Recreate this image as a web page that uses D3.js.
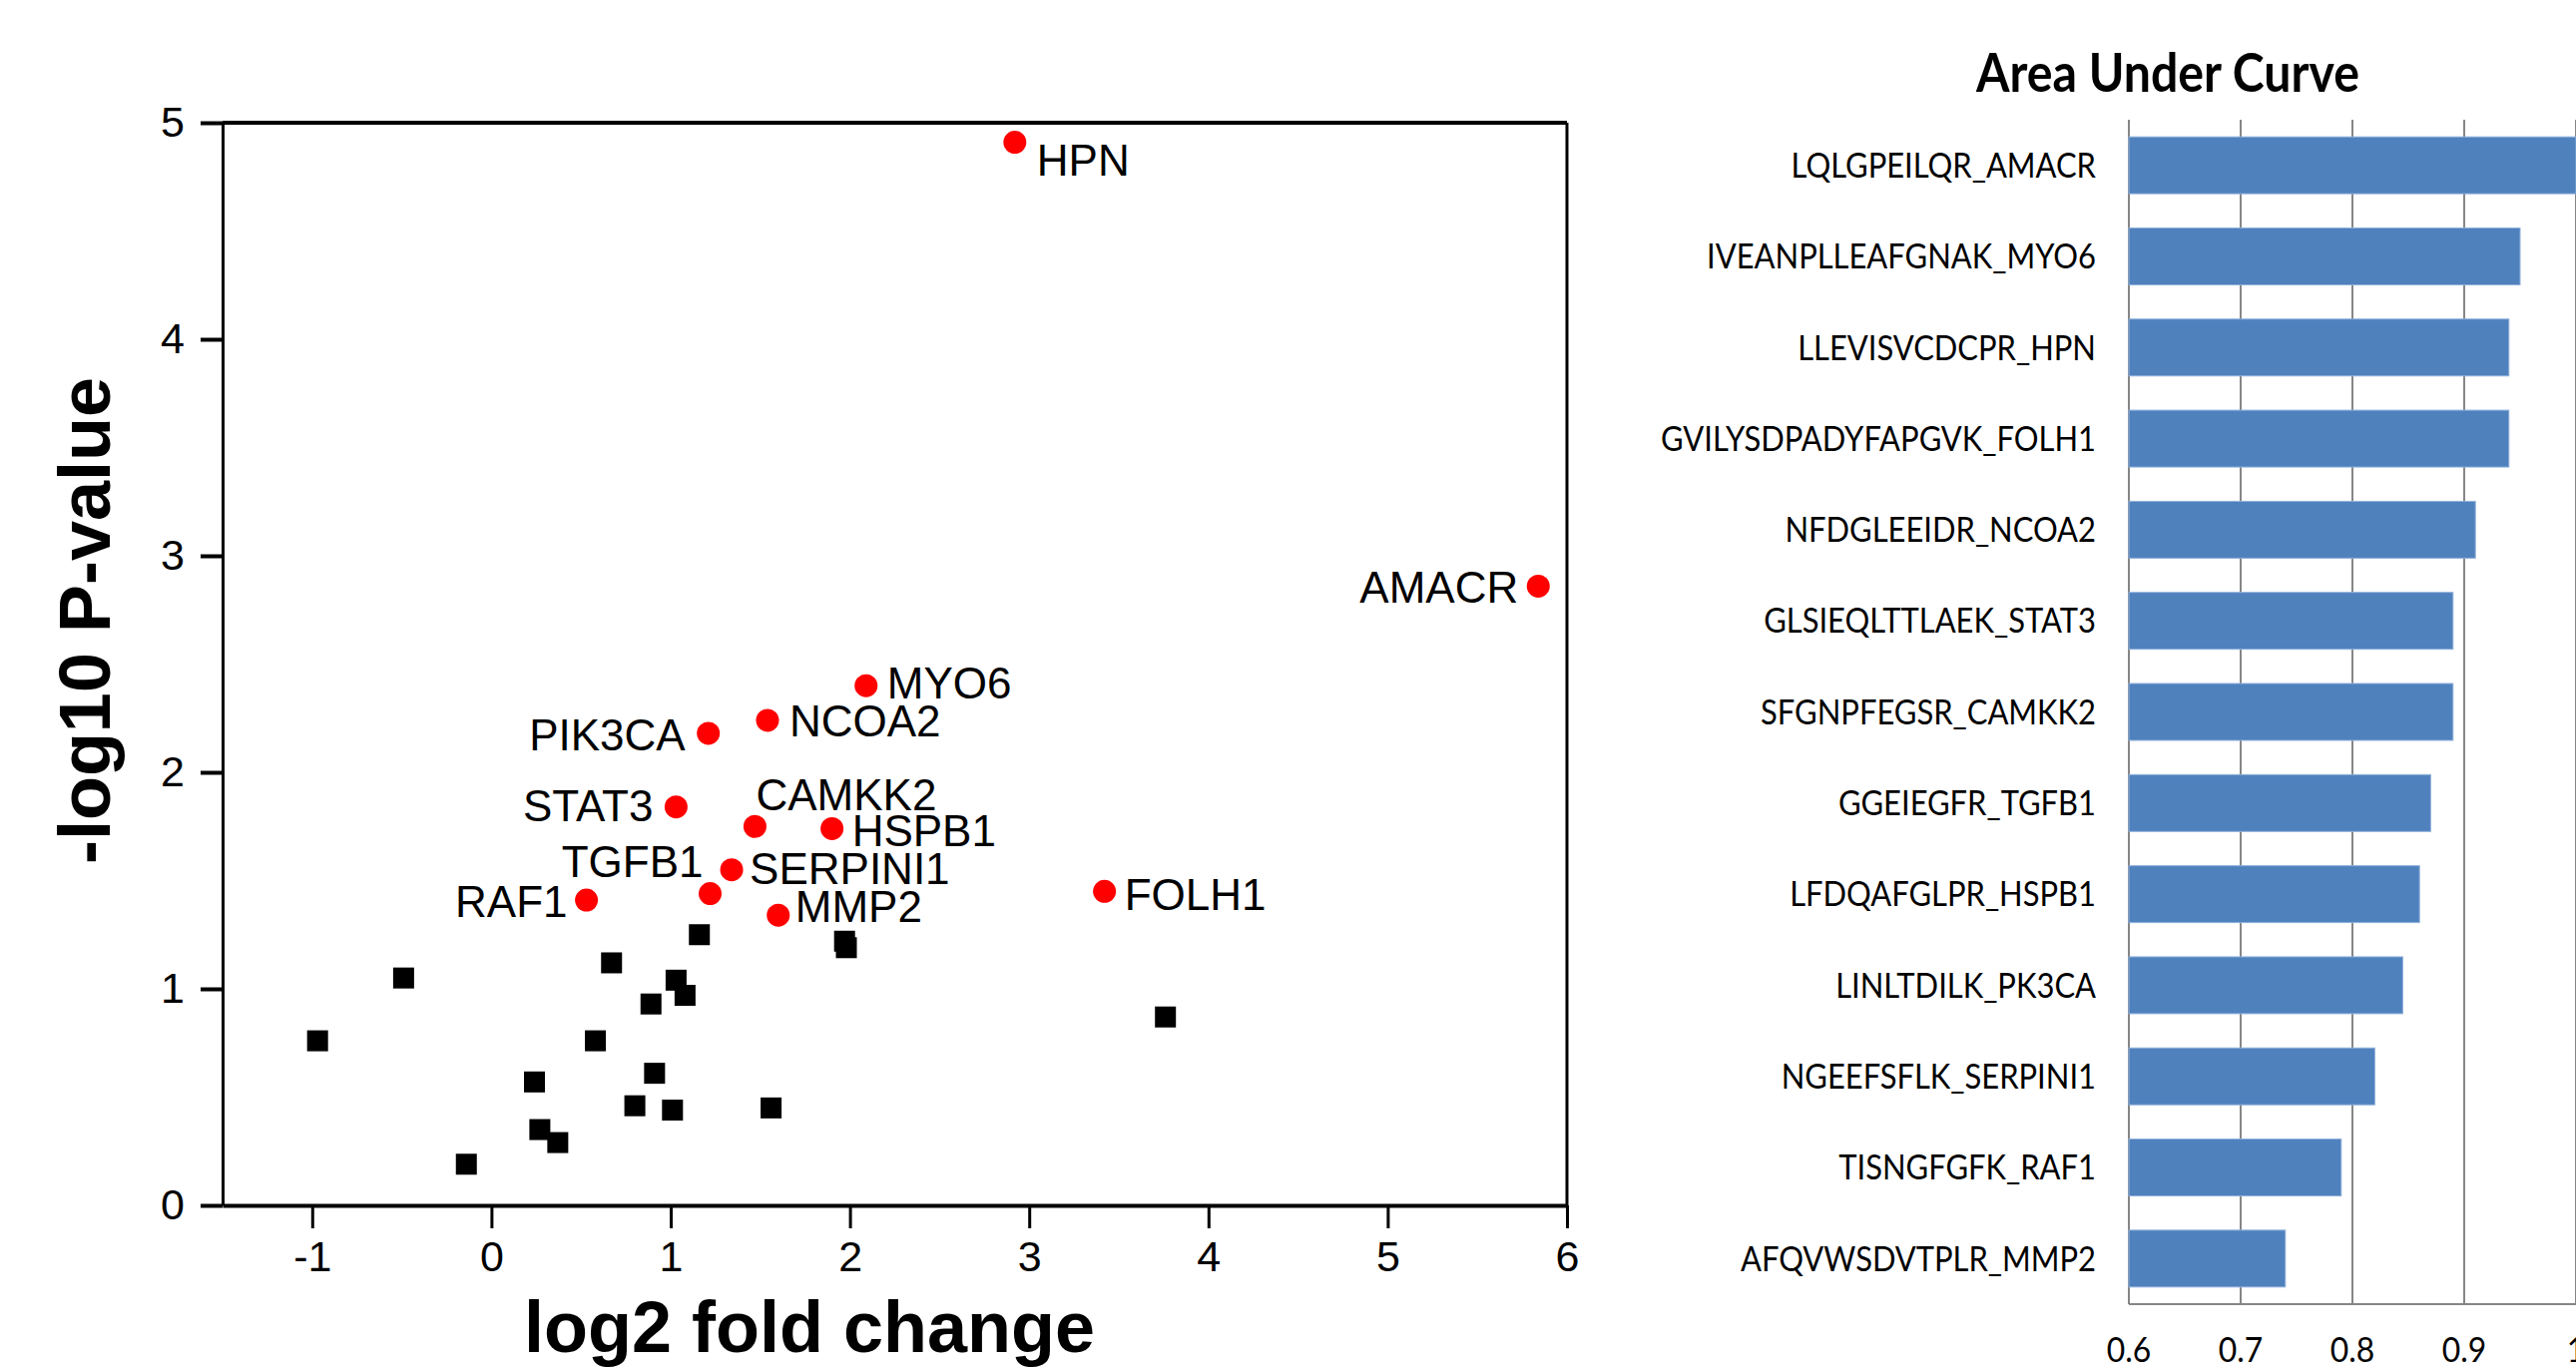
<!DOCTYPE html>
<html>
<head>
<meta charset="utf-8">
<script src="https://cdn.jsdelivr.net/npm/d3@7"></script>
<style>
    body { margin: 0; background: white; }
    svg { display: block; }
</style>
</head>
<body>
<script>
(function () {

    // volcano plot - labelled (significant) genes
    const geneNames = ["HPN", "AMACR", "MYO6", "NCOA2", "PIK3CA", "STAT3", "CAMKK2", "HSPB1", "SERPINI1", "TGFB1", "RAF1", "MMP2", "FOLH1"];
    const geneFC = [2.92, 5.84, 2.09, 1.54, 1.21, 1.03, 1.47, 1.90, 1.34, 1.22, 0.53, 1.60, 3.42];
    const geneP = [4.91, 2.86, 2.40, 2.24, 2.18, 1.84, 1.75, 1.74, 1.55, 1.44, 1.41, 1.34, 1.45];

    // other proteins (black squares)
    const otherFC = [1.16, 1.97, 1.98, 0.67, -0.49, 1.03, 1.08, 0.89, 3.76, -0.97, 0.58, 0.91, 0.24, 0.80, 1.01, 1.56, 0.27, 0.37, -0.14];
    const otherP = [1.25, 1.22, 1.19, 1.12, 1.05, 1.04, 0.97, 0.93, 0.87, 0.76, 0.76, 0.61, 0.57, 0.46, 0.44, 0.45, 0.35, 0.29, 0.19];

    const xTicks = [-1, 0, 1, 2, 3, 4, 5, 6];
    const yTicks = [0, 1, 2, 3, 4, 5];

    // bar chart - area under curve
    const peptides = ["LQLGPEILQR_AMACR", "IVEANPLLEAFGNAK_MYO6", "LLEVISVCDCPR_HPN", "GVILYSDPADYFAPGVK_FOLH1",
        "NFDGLEEIDR_NCOA2", "GLSIEQLTTLAEK_STAT3", "SFGNPFEGSR_CAMKK2", "GGEIEGFR_TGFB1", "LFDQAFGLPR_HSPB1",
        "LINLTDILK_PK3CA", "NGEEFSFLK_SERPINI1", "TISNGFGFK_RAF1", "AFQVWSDVTPLR_MMP2"];
    const aucValues = [1.0, 0.95, 0.94, 0.94, 0.91, 0.89, 0.89, 0.87, 0.86, 0.845, 0.82, 0.79, 0.74];
    const aucTicks = [0.6, 0.7, 0.8, 0.9, 1];

    // where each gene label sits relative to its dot: [dx, dy, anchor]
    const labelPlacement = {
        HPN: [22, 33, "start"], AMACR: [-20, 17, "end"], MYO6: [21, 13, "start"],
        NCOA2: [22, 16, "start"], PIK3CA: [-23, 17, "end"], STAT3: [-23, 14, "end"],
        CAMKK2: [1, -16, "start"], HSPB1: [20, 18, "start"], SERPINI1: [18, 14, "start"],
        TGFB1: [-7, -17, "end"], RAF1: [-19, 17, "end"], MMP2: [17, 7, "start"], FOLH1: [20, 19, "start"]
    };

    let svgContainer = "";
    window.onload = function () {
        svgContainer = d3.select('body')
            .append('svg')
            .attr('width', 2581)
            .attr('height', 1372);

        svgContainer.append('rect')
            .attr('width', 2581)
            .attr('height', 1372)
            .attr('fill', 'white');

        plotVolcano();
        plotAUC();
    };

    function plotVolcano() {
        let xScale = d3.scaleLinear()
            .domain([-1.5, 6])
            .range([223, 1570]);

        let yScale = d3.scaleLinear()
            .domain([0, 5])
            .range([1208, 123]);

        let font = "'Liberation Sans', Arial, sans-serif";

        let xAxis = d3.axisBottom(xScale)
            .tickValues(xTicks)
            .tickFormat((d) => String(d))
            .tickSize(23)
            .tickSizeOuter(0)
            .tickPadding(12);

        let gx = svgContainer.append('g')
            .attr('transform', 'translate(0, ' + yScale(0) + ')')
            .call(xAxis);
        gx.select('.domain').attr('stroke-width', 4);
        gx.selectAll('.tick line').attr('stroke-width', 3);
        gx.selectAll('.tick text')
            .attr('font-family', font)
            .attr('font-size', 43)
            .attr('fill', 'black');

        let yAxis = d3.axisLeft(yScale)
            .tickValues(yTicks)
            .tickFormat((d) => String(d))
            .tickSize(22)
            .tickSizeOuter(0)
            .tickPadding(16);

        let gy = svgContainer.append('g')
            .attr('transform', 'translate(' + xScale(-1.5) + ', 0)')
            .call(yAxis);
        gy.select('.domain').attr('stroke-width', 3);
        gy.selectAll('.tick line').attr('stroke-width', 4);
        gy.selectAll('.tick text')
            .attr('font-family', font)
            .attr('font-size', 43)
            .attr('fill', 'black');

        // frame: top and right
        svgContainer.append('line')
            .attr('x1', xScale(-1.5))
            .attr('x2', xScale(6))
            .attr('y1', yScale(5))
            .attr('y2', yScale(5))
            .attr('stroke', 'black')
            .attr('stroke-width', 4);

        svgContainer.append('line')
            .attr('x1', xScale(6))
            .attr('x2', xScale(6))
            .attr('y1', yScale(5))
            .attr('y2', yScale(0))
            .attr('stroke', 'black')
            .attr('stroke-width', 3);

        // black squares
        let sq = 21;
        svgContainer.append('g')
            .selectAll('rect')
            .data(otherFC.map((d, i) => ({ fc: d, p: otherP[i] })))
            .enter()
            .append('rect')
            .attr('x', (d) => xScale(d.fc) - sq / 2)
            .attr('y', (d) => yScale(d.p) - sq / 2)
            .attr('width', sq)
            .attr('height', sq)
            .attr('fill', 'black');

        let genes = geneNames.map((name, i) => ({ name: name, fc: geneFC[i], p: geneP[i] }));

        svgContainer.append('g')
            .selectAll('circle')
            .data(genes)
            .enter()
            .append('circle')
            .attr('cx', (d) => xScale(d.fc))
            .attr('cy', (d) => yScale(d.p))
            .attr('r', 11.5)
            .attr('fill', '#ff0000');

        svgContainer.append('g')
            .selectAll('text')
            .data(genes)
            .enter()
            .append('text')
            .attr('x', (d) => xScale(d.fc) + labelPlacement[d.name][0])
            .attr('y', (d) => yScale(d.p) + labelPlacement[d.name][1])
            .attr('text-anchor', (d) => labelPlacement[d.name][2])
            .attr('font-family', font)
            .attr('font-size', 44)
            .text((d) => d.name);

        // axis titles
        svgContainer.append('text')
            .attr('x', 811)
            .attr('y', 1355)
            .attr('text-anchor', 'middle')
            .attr('font-family', font)
            .attr('font-weight', 'bold')
            .attr('font-size', 72)
            .text('log2 fold change');

        svgContainer.append('text')
            .attr('transform', 'translate(110, 622) rotate(-90)')
            .attr('text-anchor', 'middle')
            .attr('font-family', font)
            .attr('font-weight', 'bold')
            .attr('font-size', 72)
            .text('-log10 P-value');
    }

    function plotAUC() {
        // Lato is wider than the Calibri-like original, so squeeze it a bit
        let font = "Lato, 'Open Sans', sans-serif";
        let squeeze = 0.91;

        let xScale = d3.scaleLinear()
            .domain([0.6, 1.0])
            .range([2133, 2581]);

        let yScale = d3.scaleBand()
            .domain(peptides)
            .range([120, 1307])
            .paddingInner(0.376)
            .paddingOuter(0.188);

        // gridlines
        svgContainer.append('g')
            .selectAll('line')
            .data(aucTicks)
            .enter()
            .append('line')
            .attr('x1', (d) => xScale(d))
            .attr('x2', (d) => xScale(d))
            .attr('y1', 120)
            .attr('y2', 1307)
            .attr('stroke', '#868686')
            .attr('stroke-width', 2);

        svgContainer.append('line')
            .attr('x1', xScale(0.6))
            .attr('x2', xScale(1.0))
            .attr('y1', 1307)
            .attr('y2', 1307)
            .attr('stroke', '#868686')
            .attr('stroke-width', 2);

        svgContainer.append('g')
            .selectAll('rect')
            .data(peptides)
            .enter()
            .append('rect')
            .attr('x', xScale(0.6))
            .attr('y', (d) => yScale(d))
            .attr('width', (d, i) => xScale(aucValues[i]) - xScale(0.6))
            .attr('height', yScale.bandwidth())
            .attr('fill', '#4f81bd')
            .attr('stroke', '#8fb0db')
            .attr('stroke-width', 1);

        // category labels
        svgContainer.append('g')
            .selectAll('text')
            .data(peptides)
            .enter()
            .append('text')
            .attr('transform', (d) => 'translate(2100, ' + (yScale(d) + yScale.bandwidth() / 2) + ') scale(' + squeeze + ', 1)')
            .attr('dy', '0.36em')
            .attr('text-anchor', 'end')
            .attr('font-family', font)
            .attr('font-size', 34)
            .text((d) => d);

        // value axis labels
        svgContainer.append('g')
            .selectAll('text')
            .data(aucTicks)
            .enter()
            .append('text')
            .attr('transform', (d) => 'translate(' + xScale(d) + ', 1365) scale(' + squeeze + ', 1)')
            .attr('text-anchor', 'middle')
            .attr('font-family', font)
            .attr('font-size', 35)
            .text((d) => String(d));

        svgContainer.append('text')
            .attr('transform', 'translate(2172, 92) scale(' + squeeze + ', 1)')
            .attr('text-anchor', 'middle')
            .attr('font-family', font)
            .attr('font-weight', 'bold')
            .attr('font-size', 53)
            .text('Area Under Curve');
    }
})();
</script>
</body>
</html>
